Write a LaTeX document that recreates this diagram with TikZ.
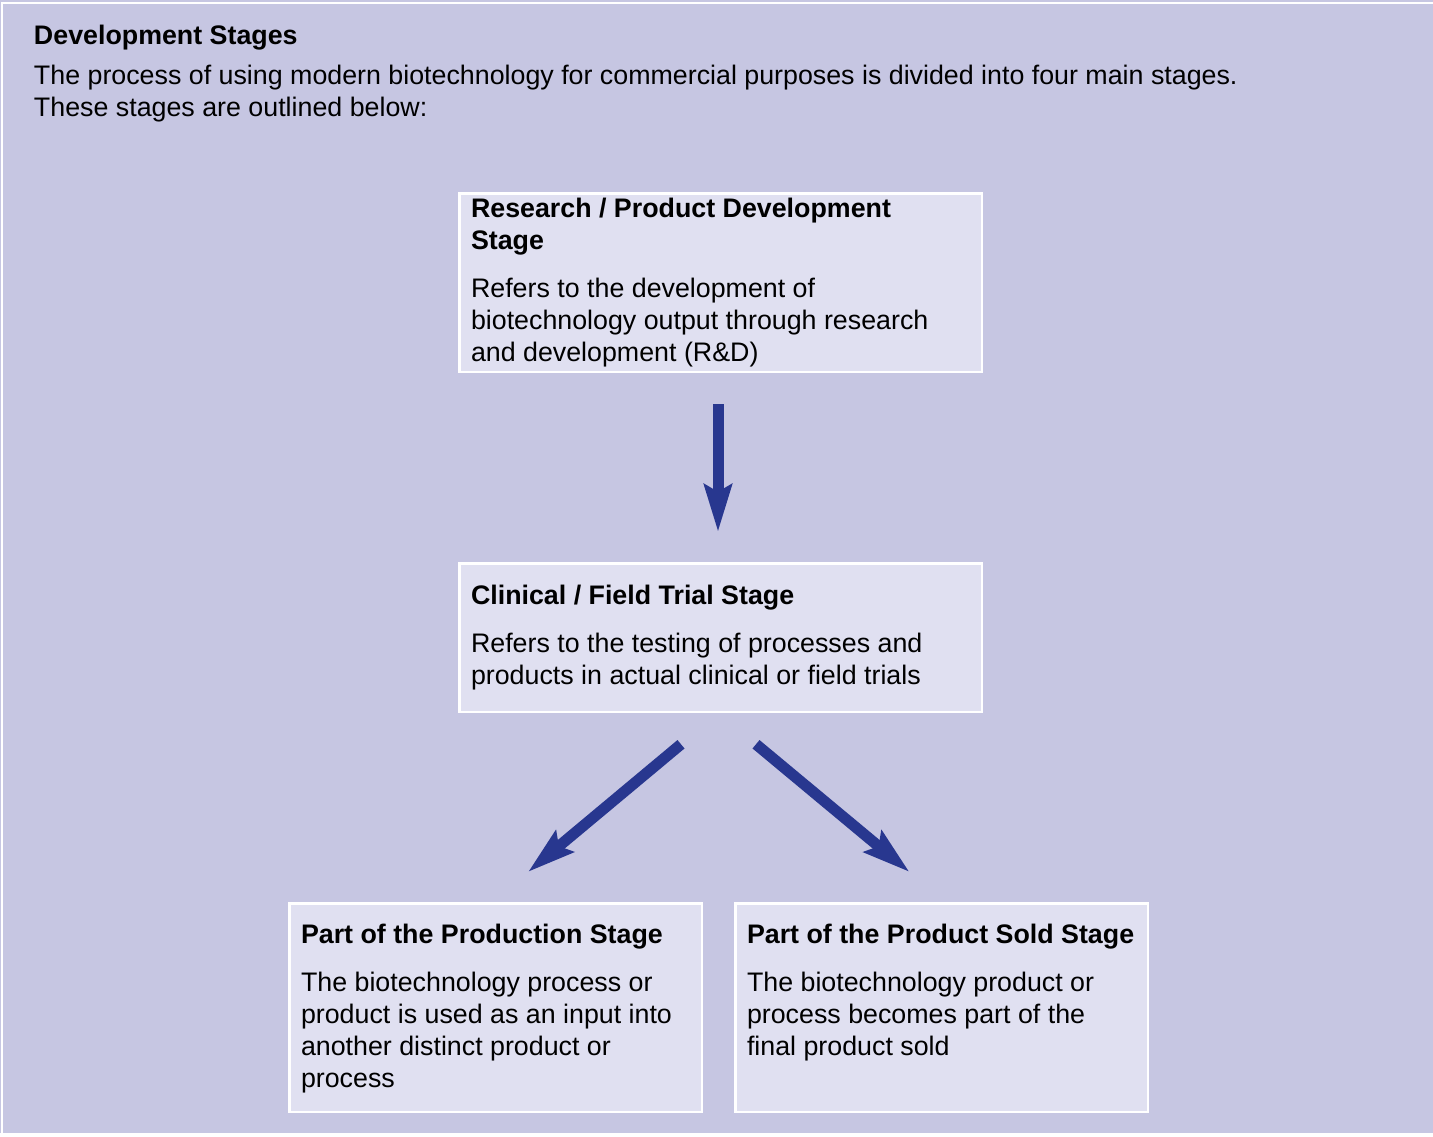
\documentclass[tikz,border=0pt]{standalone}
\usepackage{fontspec}
\setmainfont{Liberation Sans}
\usetikzlibrary{arrows.meta,calc}

\definecolor{panelbg}{HTML}{C6C6E2}
\definecolor{stagefill}{HTML}{E0E0F1}
\definecolor{flowblue}{HTML}{28378F}

\tikzset{
  stagebox/.style={draw=white, line width=2.5pt, fill=stagefill, rectangle, inner sep=0pt},
  txt/.style={anchor=base west, inner sep=0pt, outer sep=0pt, font=\fontsize{26.8}{32}\selectfont},
  hd/.style={txt, font=\fontsize{26.8}{32}\selectfont\bfseries},
  flow/.style={draw=flowblue, line width=11pt, line cap=butt,
    -{Stealth[length=47pt, width=27pt, inset=7pt, fill=flowblue]}},
}

\newcommand{\stack}[1]{\vtop{\halign{##\hfil\cr#1\crcr}}}

\begin{document}
\begin{tikzpicture}[x=1pt, y=-1pt]
  \useasboundingbox (0,0) rectangle (1433,1136);

  % panel background and its thin white rule
  \fill[white] (0,0) rectangle (1433,1136);
  \fill[panelbg] (0,0) rectangle (1433,1133);
  \draw[white, line width=2pt] (2,1134) -- (2,3) -- (1440,3);

  % heading and introduction
  \node[hd] (title) at (34,44) {Development Stages};
  \node[txt] (intro) at (34,84) {\stack{The process of using modern biotechnology for commercial purposes is divided into four main stages.\cr These stages are outlined below:}};

  % stage boxes
  \node[stagebox, minimum width=522.5pt, minimum height=178.5pt] (r1) at (720.5,282.5) {};
  \node[stagebox, minimum width=522.5pt, minimum height=148.5pt] (r2) at (720.5,637.5) {};
  \node[stagebox, minimum width=412.5pt, minimum height=208.5pt] (r3) at (495.5,1007.5) {};
  \node[stagebox, minimum width=412.5pt, minimum height=208.5pt] (r4) at (941.5,1007.5) {};

  % research stage
  \node[hd] (h1) at (471,217) {\stack{Research / Product Development\cr Stage}};
  \node[txt] (b1) at (471,297) {\stack{Refers to the development of\cr biotechnology output through research\cr and development (R\&D)}};

  % trial stage
  \node[hd] (h2) at (471,604) {Clinical / Field Trial Stage};
  \node[txt] (b2) at (471,652) {\stack{Refers to the testing of processes and\cr products in actual clinical or field trials}};

  % production stage
  \node[hd] (h3) at (301,943) {Part of the Production Stage};
  \node[txt] (b3) at (301,991) {\stack{The biotechnology process or\cr product is used as an input into\cr another distinct product or\cr process}};

  % product sold stage
  \node[hd] (h4) at (747,943) {Part of the Product Sold Stage};
  \node[txt] (b4) at (747,991) {\stack{The biotechnology product or\cr process becomes part of the\cr final product sold}};

  % flow arrows
  \coordinate (a1s) at ($(r1.south)+(-2.5,31)$);
  \coordinate (a1e) at ($(r2.north)+(-2.5,-30)$);
  \coordinate (a2s) at ($(r2.south)+(-39.5,31.25)$);
  \coordinate (a2e) at ($(r3.north)+(32.5,-30)$);
  \coordinate (a3s) at ($(r2.south)+(35.5,31.25)$);
  \coordinate (a3e) at ($(r4.north)+(-32,-30)$);
  \draw[flow] (a1s) -- (a1e);
  \draw[flow] (a2s) -- (a2e);
  \draw[flow] (a3s) -- (a3e);
\end{tikzpicture}
\end{document}
